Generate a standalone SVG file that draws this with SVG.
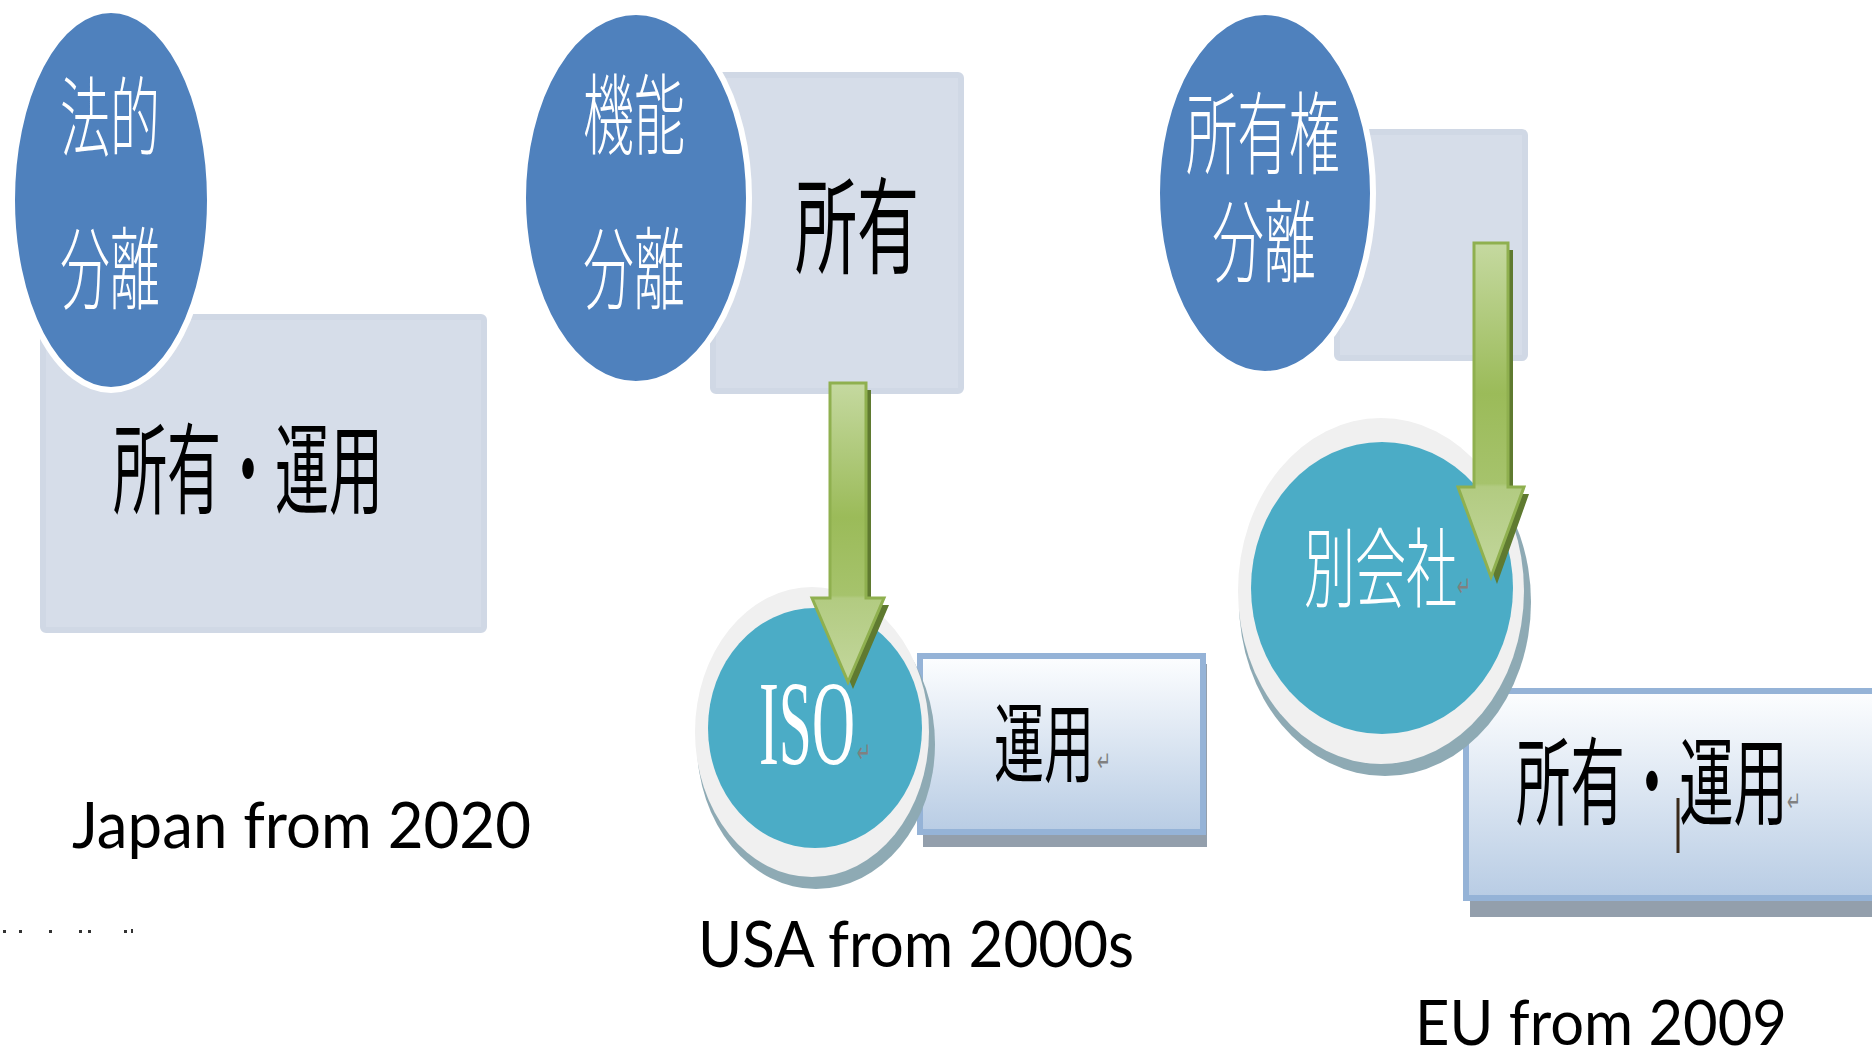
<svg xmlns="http://www.w3.org/2000/svg" width="1872" height="1051" viewBox="0 0 1872 1051">
<style>
.bg{fill:#ffffff}
.pale{fill:#d6dde9;stroke:#d0d8e5;stroke-width:6}
.blue{fill:#4f81bd;stroke:#ffffff;stroke-width:6}
.ring{fill:#f0f0f0}
.shade{fill:#8eaab4}
.teal{fill:#4bacc6}
.card{fill:url(#cardGrad);stroke:#95b3d7;stroke-width:6}
.cardShadow{fill:#939fac}
.cjkW{font-family:"Noto Sans CJK JP","Noto Sans CJK TC",sans-serif;font-weight:300;fill:#ffffff}
.cjkB{font-family:"Noto Sans CJK JP","Noto Sans CJK TC",sans-serif;font-weight:400;fill:#000000}
.ret{font-family:"DejaVu Sans",sans-serif;font-size:28px;fill:#808080}
.label{font-family:Lato,"Open Sans",sans-serif;fill:#000000}
.arrowBody{stroke:#8fb04f;stroke-width:3;stroke-linejoin:miter}
.arrowShadow{fill:#5f7a30}
</style>
<defs>
<linearGradient id="cardGrad" x1="0" y1="0" x2="0" y2="1">
<stop offset="0" stop-color="#fdfeff"/>
<stop offset="1" stop-color="#b8cce4"/>
</linearGradient>
<linearGradient id="arrowGrad1" gradientUnits="userSpaceOnUse" x1="0" y1="383" x2="0" y2="682">
<stop offset="0" stop-color="#c5d9a0"/>
<stop offset="0.45" stop-color="#9bbb59"/>
<stop offset="0.71" stop-color="#a6c36c"/>
<stop offset="0.72" stop-color="#b2cb81"/>
<stop offset="1" stop-color="#c3d79d"/>
</linearGradient>
<linearGradient id="arrowGrad2" gradientUnits="userSpaceOnUse" x1="0" y1="243" x2="0" y2="577">
<stop offset="0" stop-color="#c5d9a0"/>
<stop offset="0.45" stop-color="#9bbb59"/>
<stop offset="0.72" stop-color="#a6c36c"/>
<stop offset="0.73" stop-color="#b2cb81"/>
<stop offset="1" stop-color="#c3d79d"/>
</linearGradient>
</defs>
<rect class="bg" x="0" y="0" width="1872" height="1051"/>

<!-- Japan -->
<g id="japan-rect">
<rect class="pale" x="43" y="317" width="441" height="313" rx="3"/>
<text class="cjkB" x="113" y="506" font-size="99" textLength="270" lengthAdjust="spacingAndGlyphs">所有・運用</text>
</g>
<g id="japan-circle">
<ellipse class="blue" cx="111" cy="200" rx="99" ry="190"/>
<text class="cjkW" x="60" y="150" font-size="87" textLength="100" lengthAdjust="spacingAndGlyphs">法的</text>
<text class="cjkW" x="60" y="302" font-size="90" textLength="100" lengthAdjust="spacingAndGlyphs">分離</text>
</g>
<g id="japan-label">
<text class="label" x="72" y="848" font-size="64" textLength="459" lengthAdjust="spacingAndGlyphs">Japan from 2020</text>
</g>
<g id="fragment-dots" fill="#333333">
<rect x="3" y="930" width="3" height="3"/>
<rect x="19" y="930" width="3" height="3"/>
<rect x="49" y="930" width="3" height="3"/>
<rect x="79" y="930" width="3" height="3"/>
<rect x="88" y="930" width="3" height="3"/>
<rect x="124" y="930" width="3" height="3"/>
<rect x="131" y="929" width="2" height="4"/>
</g>

<!-- USA -->
<g id="usa-rect">
<rect class="pale" x="713" y="75" width="248" height="316" rx="3"/>
<text class="cjkB" x="795" y="265" font-size="105" textLength="124" lengthAdjust="spacingAndGlyphs">所有</text>
</g>
<g id="usa-circle">
<ellipse class="blue" cx="636" cy="198" rx="113" ry="186"/>
<text class="cjkW" x="583" y="147" font-size="88" textLength="102" lengthAdjust="spacingAndGlyphs">機能</text>
<text class="cjkW" x="583" y="302" font-size="90" textLength="102" lengthAdjust="spacingAndGlyphs">分離</text>
</g>
<g id="usa-card">
<rect class="cardShadow" x="923" y="664" width="284" height="183"/>
<rect class="card" x="920" y="656" width="283" height="176"/>
<text class="cjkB" x="994" y="776" font-size="87" textLength="100" lengthAdjust="spacingAndGlyphs">運用</text>
<text class="ret" x="1097" y="771" textLength="14" lengthAdjust="spacingAndGlyphs">↵</text>
</g>
<g id="usa-iso">
<ellipse class="shade" cx="816" cy="744" rx="119" ry="145"/>
<ellipse class="ring" cx="812" cy="732" rx="117" ry="145"/>
<ellipse class="teal" cx="815" cy="728" rx="107" ry="120"/>
<text x="759" y="764" font-family="'Liberation Serif',serif" font-size="121" fill="#ffffff" textLength="96" lengthAdjust="spacingAndGlyphs">ISO</text>
<text class="ret" x="857" y="762" textLength="14" lengthAdjust="spacingAndGlyphs">↵</text>
</g>
<g id="usa-label">
<text class="label" x="698" y="967" font-size="63" textLength="436" lengthAdjust="spacingAndGlyphs">USA from 2000s</text>
</g>

<!-- EU -->
<g id="eu-rect">
<rect class="pale" x="1337" y="132" width="188" height="226" rx="3"/>
</g>
<g id="eu-circle">
<ellipse class="blue" cx="1265" cy="193" rx="108" ry="181"/>
<text class="cjkW" x="1186" y="167" font-size="90" textLength="154" lengthAdjust="spacingAndGlyphs">所有権</text>
<text class="cjkW" x="1212" y="275" font-size="90" textLength="104" lengthAdjust="spacingAndGlyphs">分離</text>
</g>
<g id="eu-card">
<rect class="cardShadow" x="1470" y="700" width="410" height="217"/>
<rect class="card" x="1466" y="691" width="412" height="207"/>
<text class="cjkB" x="1516" y="817" font-size="96" textLength="272" lengthAdjust="spacingAndGlyphs">所有・運用</text>
<text class="ret" x="1787" y="811" textLength="14" lengthAdjust="spacingAndGlyphs">↵</text>
<line x1="1678" y1="798" x2="1678" y2="853" stroke="#3a2a1a" stroke-width="3"/>
</g>
<g id="eu-company">
<ellipse class="shade" cx="1385" cy="602" rx="146" ry="174"/>
<ellipse class="ring" cx="1381" cy="591" rx="143" ry="173"/>
<ellipse class="teal" cx="1382" cy="588" rx="131" ry="146"/>
<text class="cjkW" x="1304" y="601" font-size="87" textLength="153" lengthAdjust="spacingAndGlyphs">別会社</text>
<text class="ret" x="1457" y="596" textLength="14" lengthAdjust="spacingAndGlyphs">↵</text>
</g>
<g id="eu-label">
<text class="label" x="1415" y="1045" font-size="62" textLength="372" lengthAdjust="spacingAndGlyphs">EU from 2009</text>
</g>

<!-- connectors -->
<g id="connectors">
<path class="arrowShadow" d="M835,390 H871 V605 H889 L853,689 L817,605 H835 Z"/>
<path class="arrowBody" fill="url(#arrowGrad1)" d="M830,383 H866 V598 H884 L848,682 L812,598 H830 Z"/>
<path class="arrowShadow" d="M1479,250 H1513 V494 H1529 L1497,584 L1463,494 H1479 Z"/>
<path class="arrowBody" fill="url(#arrowGrad2)" d="M1474,243 H1508 V487 H1524 L1491,577 L1458,487 H1474 Z"/>
</g>
</svg>
